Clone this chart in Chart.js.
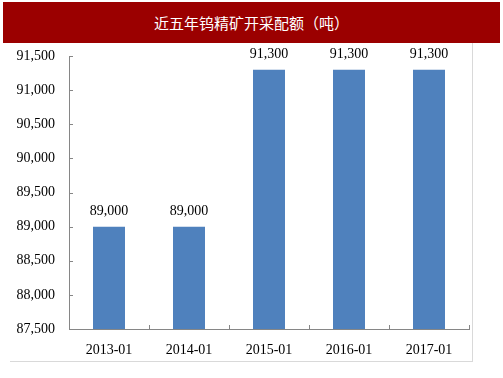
<!DOCTYPE html>
<html>
<head>
<meta charset="utf-8">
<script src="https://cdn.jsdelivr.net/npm/chart.js@4"></script>
<style>
  body { margin: 0; background: #fff; }
  #title {
    position: absolute; left: 3px; top: 2px; width: 497px; height: 41px;
    background: #9b0000; color: #fff;
    font: 15px "Noto Sans CJK SC", sans-serif;
    display: flex; align-items: center; justify-content: center;
  }
  #frame {
    position: absolute; left: 10px; top: 43px; width: 462px; height: 318px;
    border-right: 1px solid #d9d9d9; border-bottom: 1px solid #d9d9d9;
  }
</style>
</head>
<body>
<div id="title">近五年钨精矿开采配额（吨）</div>
<div id="frame"><canvas id="myChart" width="462" height="318"></canvas></div>
<script>
const categories = ['2013-01', '2014-01', '2015-01', '2016-01', '2017-01'];
const quotas = [89000, 89000, 91300, 91300, 91300];
const yMin = 87500;
const yMax = 91500;
const yStep = 500;

const fmt = v => Number(v).toLocaleString('en-US');

// small inward ticks like the original, plus value labels above bars
const extras = {
  id: 'extras',
  afterDraw(chart) {
    const c = chart.ctx;
    const { x, y } = chart.scales;
    c.save();
    c.strokeStyle = '#868686';
    c.lineWidth = 1;
    y.ticks.forEach(t => {
      const py = Math.round(y.getPixelForValue(t.value)) + 0.5;
      c.beginPath();
      c.moveTo(x.left, py);
      c.lineTo(x.left + 4, py);
      c.stroke();
    });
    for (let i = 0; i <= categories.length; i++) {
      const px = Math.round(x.getPixelForValue(i - 0.5)) + 0.5;
      c.beginPath();
      c.moveTo(px, y.bottom);
      c.lineTo(px, y.bottom - 4);
      c.stroke();
    }
    const meta = chart.getDatasetMeta(0);
    c.fillStyle = '#000';
    c.font = '14px "Liberation Serif", serif';
    c.textAlign = 'center';
    c.textBaseline = 'middle';
    meta.data.forEach((bar, i) => {
      c.fillText(fmt(quotas[i]), bar.x, bar.y - 15);
    });
    c.restore();
  }
};

const ctx = document.getElementById('myChart').getContext('2d');
new Chart(ctx, {
  type: 'bar',
  data: {
    labels: categories,
    datasets: [{
      data: quotas,
      backgroundColor: '#4f81bd',
      borderWidth: 0,
      barPercentage: 0.8,
      categoryPercentage: 0.5
    }]
  },
  options: {
    responsive: false,
    animation: false,
    layout: { padding: { top: 13, right: 3, left: 0, bottom: 0 } },
    plugins: { legend: { display: false }, tooltip: { enabled: false } },
    scales: {
      x: {
        grid: { display: false, drawTicks: false },
        border: { color: '#868686' },
        ticks: { color: '#000', padding: 13, font: { family: '"Liberation Serif", serif', size: 14 } },
        afterFit: s => { s.height = 32; s.paddingLeft = 0; s.paddingRight = 0; }
      },
      y: {
        min: yMin,
        max: yMax,
        grid: { display: false, drawTicks: false },
        border: { color: '#868686' },
        ticks: {
          stepSize: yStep,
          color: '#000',
          padding: 14,
          font: { family: '"Liberation Serif", serif', size: 14 },
          callback: v => fmt(v)
        },
        afterFit: s => { s.width = 59; s.paddingTop = 0; s.paddingBottom = 0; }
      }
    }
  },
  plugins: [extras]
});
</script>
</body>
</html>
